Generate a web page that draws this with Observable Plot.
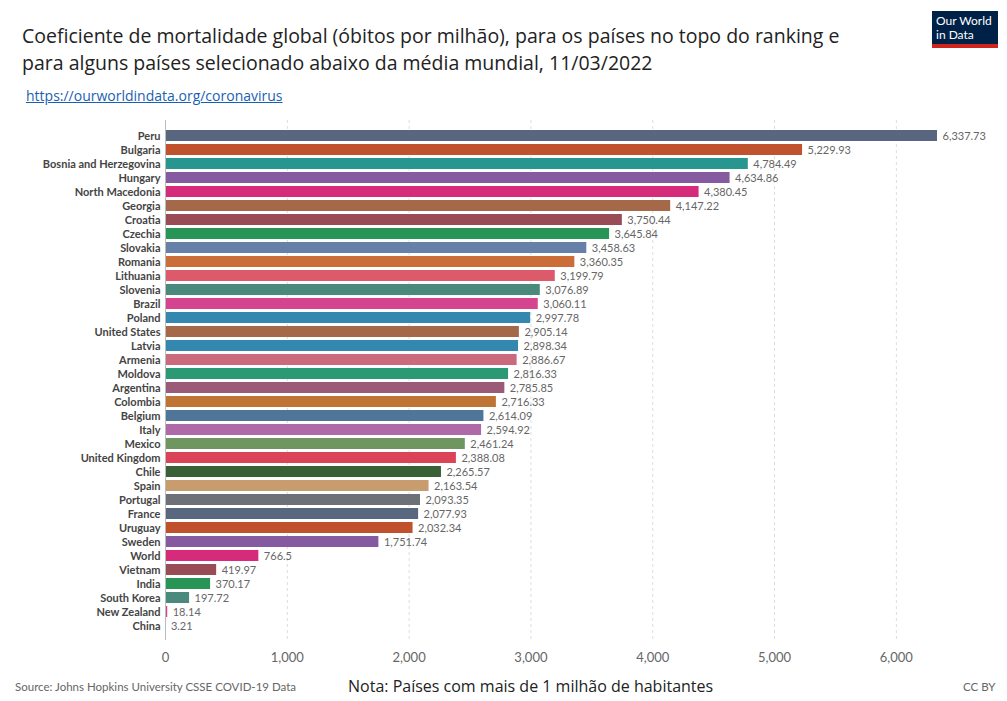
<!DOCTYPE html>
<html><head><meta charset="utf-8">
<script src="https://cdn.jsdelivr.net/npm/d3@7"></script>
<script src="https://cdn.jsdelivr.net/npm/@observablehq/plot@0.6"></script>
<style>
body{margin:0;background:#fff;font-family:Lato,sans-serif;}
#wrap{position:relative;width:1007px;height:701px;}
#title{position:absolute;left:22px;top:22px;font-family:"Open Sans",sans-serif;font-size:19.5px;line-height:27px;color:#222;}
#link{position:absolute;left:26px;top:86px;font-family:"Open Sans",sans-serif;font-size:14px;color:#1a5fb4;text-decoration:underline;}
#logo{position:absolute;left:932px;top:11px;width:66px;height:37px;background:#002147;color:#fff;font-size:12px;line-height:14px;padding:3px 0 0 4px;box-sizing:border-box;border-bottom:4px solid #ce261e;}
#chart{position:absolute;left:0;top:112px;}
#src{position:absolute;left:15px;top:680px;font-size:11.5px;color:#666;}
#nota{position:absolute;left:348px;top:675px;font-family:"Open Sans",sans-serif;font-size:16px;color:#222;}
#cc{position:absolute;left:963px;top:680px;font-size:11.5px;color:#666;}
</style></head><body>
<div id="wrap">
<div id="title">Coeficiente de mortalidade global (óbitos por milhão), para os países no topo do ranking e<br>para alguns países selecionado abaixo da média mundial, 11/03/2022</div>
<div id="link">https://ourworldindata.org/coronavirus</div>
<div id="logo">Our World<br>in Data</div>
<div id="chart"></div>
<div id="src">Source: Johns Hopkins University CSSE COVID-19 Data</div>
<div id="nota">Nota: Países com mais de 1 milhão de habitantes</div>
<div id="cc">CC BY</div>
</div>
<script>
const countries=["Peru","Bulgaria","Bosnia and Herzegovina","Hungary","North Macedonia","Georgia","Croatia","Czechia","Slovakia","Romania","Lithuania","Slovenia","Brazil","Poland","United States","Latvia","Armenia","Moldova","Argentina","Colombia","Belgium","Italy","Mexico","United Kingdom","Chile","Spain","Portugal","France","Uruguay","Sweden","World","Vietnam","India","South Korea","New Zealand","China"];
const values=[6337.73,5229.93,4784.49,4634.86,4380.45,4147.22,3750.44,3645.84,3458.63,3360.35,3199.79,3076.89,3060.11,2997.78,2905.14,2898.34,2886.67,2816.33,2785.85,2716.33,2614.09,2594.92,2461.24,2388.08,2265.57,2163.54,2093.35,2077.93,2032.34,1751.74,766.5,419.97,370.17,197.72,18.14,3.21];
const colors=["#58667f","#c0522d","#26968e","#865aa0","#d62a7a","#a56848","#994c55","#289455","#6680a8","#cb6d39","#dc5a6a","#4a8a7c","#d6448f","#3487ae","#a56848","#3487ae","#cc6a7d","#2b9a74","#9b5a78","#bf7435","#4f7699","#b069a8","#6f9560","#db4356","#3a6135","#c79c6e","#6e7078","#58667f","#bf522d","#865aa0","#d62a7a","#994c55","#289455","#4a8a7c","#d6448f","#c8a0a0"];
const xTicks=[0,1000,2000,3000,4000,5000,6000];
const data=countries.map((c,i)=>({c,v:values[i],col:colors[i]}));
const fmt=d=>d3.format(",")(d);
const chart=Plot.plot({
  width:1007,height:565,marginLeft:165,marginRight:70,marginTop:8,marginBottom:37,
  style:{fontFamily:"Lato,sans-serif",fontSize:"11px",color:"#555"},
  x:{domain:[0,6337.73],label:null,ticks:xTicks,tickFormat:d3.format(","),tickSize:0,tickPadding:12},
  y:{domain:countries,label:null,padding:0.22,tickSize:0,tickPadding:5},
  marks:[
    Plot.ruleX(xTicks.slice(1),{stroke:"#ddd",strokeDasharray:"3,3"}),
    Plot.barX(data,{y:"c",x:"v",fill:"col"}),
    Plot.ruleX([0],{stroke:"#bbb"}),
    Plot.text(data,{y:"c",x:"v",text:d=>fmt(d.v),textAnchor:"start",dx:5,fill:"#666",fontSize:11}),
    Plot.axisY({tickSize:0,tickPadding:5,fill:"#444",fontWeight:"bold",fontSize:11,label:null}),
    Plot.axisX({ticks:xTicks,tickFormat:d3.format(","),tickSize:0,tickPadding:12,fontSize:13,fill:"#666",label:null})
  ]
});
document.getElementById("chart").append(chart);
</script>
</body></html>
